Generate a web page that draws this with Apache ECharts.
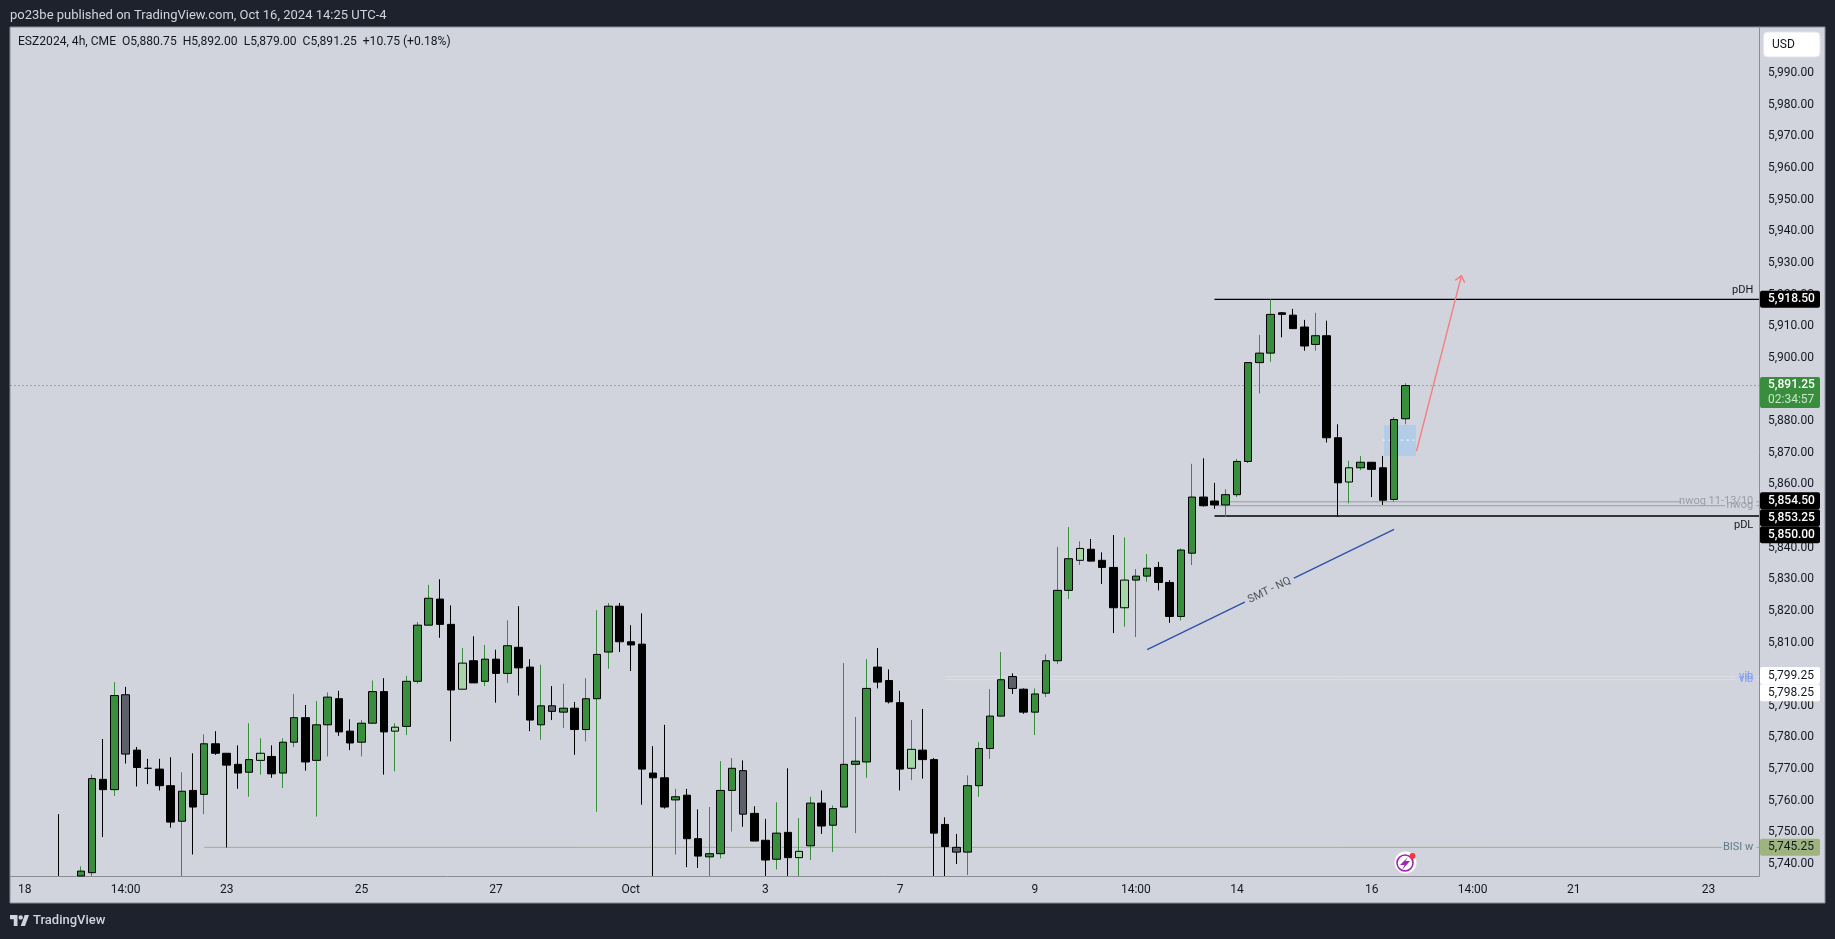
<!DOCTYPE html>
<html>
<head>
<meta charset="utf-8">
<style>html,body{margin:0;padding:0;background:#1e222d;overflow:hidden}#c{width:1835px;height:939px}</style>
<script src="https://cdn.jsdelivr.net/npm/echarts@6/dist/echarts.min.js"></script>
</head>
<body>
<div id="c"></div>
<script>
// candle class per bar: G bull, B bear, L pale bull, N grey bear
const kinds = ("BGGGBGNBBB"+"BGBGBBBGLB"+"GGBGGBBGGB"+"LGGGBBLBGB"+"GBBGNGBGGG"+"BBBBBGBBGG"+"GNBBGBLGBG"+"GGGBBBLBBB"+"NGGGGNBGGG"+"GLBBBLGGBB"+"GGBBGGGGGB"+"BBGBBLGBBG"+"G").split("");
const opens  = [5734,5728,5732,5737.25,5766.75,5763.5,5793.5,5776,5770.25,5770,5764.75,5753.5,5763.25,5762,5778,5775,5771.5,5769,5772.75,5774,5768.75,5778.5,5786.25,5772.75,5784,5792.25,5782,5778.5,5784.5,5794.5,5782,5783.5,5797.75,5815.5,5823.75,5815.75,5795.25,5804.25,5797.75,5804.75,5800.25,5808.5,5802.25,5784,5790,5788,5789.25,5782.5,5792.25,5807,5821.5,5810.25,5809.5,5768.75,5767.25,5760.25,5761.75,5748,5742.25,5743.25,5763.25,5769.5,5756,5747.5,5741.5,5750,5742,5745.75,5759.25,5752.25,5758,5771.5,5772.25,5802.25,5798,5791,5770.25,5776,5773,5752.5,5745.25,5743.75,5764.75,5776.5,5786.75,5799.25,5795.25,5788,5794,5804.25,5826.5,5836,5839.5,5836,5833.75,5821,5829.75,5831,5833.75,5829,5818.25,5838.25,5856,5854.75,5853.5,5856.75,5867.25,5898.5,5901.5,5914.25,5913.5,5909.75,5904.25,5907,5874.75,5860.75,5865.25,5867,5865.25,5855.25,5880.75];
const highs  = [5755.75,5735,5739.25,5768.25,5779.5,5797.5,5796,5777,5773.25,5773.25,5773.75,5769,5775,5781,5782,5775,5777.5,5784.5,5779.75,5777.5,5779.75,5793.75,5790.25,5791.5,5794.25,5794.75,5785.75,5785.5,5798,5798.75,5784.5,5799.5,5816.5,5828.25,5830,5821.75,5808.25,5812,5809.25,5807.75,5817,5821.5,5804.75,5803,5796.25,5797,5791.25,5798.75,5820.25,5822.5,5822.5,5815.5,5819.25,5777.25,5784,5763.75,5763.75,5757.25,5758,5772.5,5773.5,5772.75,5758.25,5754.25,5759.5,5770.25,5754.5,5761.25,5763.25,5758.5,5803.5,5786.5,5804.75,5808.25,5801.5,5794.75,5785.5,5789,5773.5,5754.75,5749.5,5768,5778.5,5795.25,5807,5800.25,5795.5,5795.5,5806.25,5840.25,5846.5,5842,5842.75,5838.5,5844,5843.25,5833.25,5838,5835.5,5829.75,5839.75,5866.5,5868.25,5860.5,5858.5,5868,5898.5,5907.25,5918.5,5914.5,5915.5,5912,5914.25,5911.75,5879,5867.5,5869,5867,5869,5881.25,5892];
const lows   = [5725,5726,5730,5735,5748.5,5761.5,5771.75,5764.5,5765.25,5763.25,5751.5,5733,5743,5755.75,5774.5,5745.25,5763.75,5761.25,5768.25,5767.25,5764,5777,5769.5,5755,5774,5780.5,5776,5774,5784.5,5768.25,5769.25,5780.75,5797,5815.5,5811.5,5778.75,5795.25,5797.25,5796.25,5791,5797.25,5793.25,5782,5779.25,5785.5,5783,5774.5,5778.75,5756.5,5801.75,5807,5801,5758.75,5730,5757.5,5743,5739,5738.75,5735.5,5741.75,5750.25,5751.75,5747.25,5733,5738.25,5733,5733,5741.25,5749.5,5743.75,5758,5749.75,5767.25,5795.5,5790.75,5763.25,5766.5,5767,5733,5733,5740,5736.5,5761.25,5773.25,5786.75,5793.75,5787.5,5780.75,5792.75,5803.25,5823.75,5834.5,5835.75,5828.5,5813,5815,5811.75,5829.25,5826.5,5816.25,5817,5834.5,5853,5852.25,5849.75,5856,5866.75,5888.75,5898.75,5906.5,5909.25,5902.25,5902.25,5873.25,5849.75,5854,5864.5,5856,5853.5,5854.5,5879];
const closes = [5730,5732,5737.75,5767,5763.5,5793.25,5774.75,5770.5,5770.25,5764.75,5753.25,5763,5758,5778,5775,5771.25,5768.75,5773,5775,5768.5,5778.5,5786.25,5772.25,5784,5792.75,5781.75,5778.25,5784.5,5794.5,5781.75,5783.25,5797.75,5815.5,5824,5815.75,5795,5803.5,5797.25,5804.75,5800.25,5809,5802,5785.5,5790,5788.25,5789.25,5782.5,5792.25,5806.25,5821.5,5810.25,5809.25,5770,5767.25,5758,5761.25,5748,5742.5,5743.25,5763.25,5770.25,5755.75,5747.25,5741.25,5749.75,5742,5744,5759.25,5752,5757.5,5771.5,5772.5,5795.5,5797.5,5791.25,5770,5776.25,5773,5749.75,5745.5,5743.75,5764.75,5776.5,5786.75,5798.25,5795.5,5788,5793.75,5804.25,5826.5,5836.5,5839.75,5835.75,5833.75,5821,5829.75,5831,5833.5,5829,5818.25,5839.25,5856,5853.25,5853.5,5856.75,5867.25,5898.5,5901.5,5913.75,5913.75,5909.25,5903.75,5907,5874.75,5860.5,5865.25,5867,5864.75,5855,5880.5,5891.25];

// ticks of the time axis are bar indices
const timeTickBars   = [-3,6,15,27,39,51,63,75,87,96,105,117,126,135,147];
const timeTickLabels = ["18","14:00","23","25","27","Oct","3","7","9","14:00","14","16","14:00","21","23"];
const priceTicks = [5740,5750,5760,5770,5780,5790,5800,5810,5820,5830,5840,5850,5860,5870,5880,5890,5900,5910,5920,5930,5940,5950,5960,5970,5980,5990];

// horizontal levels
const levelNames  = ["pDH","pDL","nwog 11-13/10","nwog","vib","vib","BISI w","last"];
const levelPrices = [5918.5,5850,5854.5,5853.25,5799.25,5798.25,5745.25,5891.25];
const levelStarts = [103,103,104,103,79,79,13,-4.26];
const levelEnds   = [151.51,151.51,144.6,148.5,149.4,149.4,148.2,151.51];

// drawn annotations
const smtLine   = [[97,5807.75],[119,5845.75]];
const arrowLine = [[121,5870.5],[125,5926]];
const arrowHead = [[124.44,5924.5],[125,5926],[125.3,5923.75]];
const zoneBox   = [[118.1,5878.75],[120.95,5869]];
const zoneMid   = [[118,5874],[120.8,5874]];
const smtLabel  = [107.9,5826.5];

// price tags on the right axis
const tagPrices = [5745.25,5798.25,5799.25,5850,5853.25,5854.5,5891.25,5918.5];
const tagTexts  = ["5,745.25","5,798.25","5,799.25","5,850.00","5,853.25","5,854.50","5,891.25\n02:34:57","5,918.50"];

const FONT = 'Roboto, "Noto Sans", sans-serif';
const PANE = '#d1d4dc', DARK = '#1e222d', INK = '#131722', EDGE = '#8a8d96';
const X0 = -4.26, X1 = 151.51, Y0 = 5736.2, Y1 = 6004.6;

const wickColor = {G:'#388e3c', L:'#388e3c', B:'#000000', N:'#000000'};
const bodyColor = {G:'#388e3c', L:'#a5d6a7', B:'#000000', N:'#5d606b'};
const levelStyle = {
  pDH:{color:'#000',width:1.4}, pDL:{color:'#000',width:1.4},
  'nwog 11-13/10':{color:'#9a9da6',width:1}, nwog:{color:'#9a9da6',width:1},
  vib:{color:'#dde0e7',width:1}, 'BISI w':{color:'#9db47e',width:1},
  last:{color:'#388e3c',width:1,type:[1,3]}
};
const labelStyle = {
  pDH:{color:'#131722',dy:-9}, pDL:{color:'#131722',dy:9},
  'nwog 11-13/10':{color:'#9a9da6',dy:-1}, nwog:{color:'#9a9da6',dy:0},
  vib:{color:'#7d9cf0',dy:0}, 'BISI w':{color:'#5f7a86',dy:0}
};
const tagStyle = [
  {bg:'#9db47e',fg:'#131722',dy:0},{bg:'#ffffff',fg:'#131722',dy:13},{bg:'#ffffff',fg:'#131722',dy:-1},
  {bg:'#000000',fg:'#ffffff',dy:18.7},{bg:'#000000',fg:'#ffffff',dy:12},{bg:'#000000',fg:'#ffffff',dy:-1},
  {bg:'#388e3c',fg:'#ffffff',dy:7,h:31},{bg:'#000000',fg:'#ffffff',dy:0}
];

// the pane cuts bars at its lower edge
const atPane = v => Math.max(v, Y0);
const wickData = kinds.map((k,i)=>{
  if (highs[i] < Y0) return null;
  const c = wickColor[k];
  return {value:[i,atPane(opens[i]),atPane(closes[i]),atPane(lows[i]),highs[i]],
    itemStyle:{color:c,color0:c,borderColor:c,borderColor0:c,borderColorDoji:c}};
}).filter(Boolean);
const bodyData = kinds.map((k,i)=>{
  const c = bodyColor[k], t = Math.max(opens[i],closes[i]), b = Math.min(opens[i],closes[i]);
  if (t < Y0) return null;
  return {value:[i,atPane(opens[i]),atPane(closes[i]),atPane(b),t],
    itemStyle:{color:c,color0:c,borderColor:'#000',borderColor0:'#000',borderColorDoji:'#000'}};
}).filter(Boolean);

function polyline(name,data,color,width,type,z){
  return {name,type:'line',data,showSymbol:false,symbol:'none',silent:true,animation:false,z,
    lineStyle:{color,width,type:type||'solid'},connectNulls:false};
}
const levelSeries = levelNames.map((n,i)=>{
  const st = levelStyle[n], p = levelPrices[i];
  const d = [[levelStarts[i],p],[levelEnds[i],p]];
  if (levelEnds[i] < X1) d.push([levelEnds[i],'-'],[151.28,p],[X1,p]);
  return polyline(n,d,st.color,st.width,st.type,n==='pDH'||n==='pDL'?5:2);
});
const levelLabels = levelNames.map((n,i)=>{
  if (n==='last') return null;
  const st = labelStyle[n];
  return {value:[151.0,levelPrices[i]],
    label:{show:true,position:'left',distance:0,formatter:n,offset:[0,st.dy],color:st.color,fontFamily:FONT,fontSize:11}};
}).filter(Boolean);

const tagData = tagPrices.map((p,i)=>{
  const s = tagStyle[i], two = !!s.h;
  return {value:[X1,p],label:{show:true,position:'right',distance:1,offset:[0,s.dy],
    formatter: two ? '{a|5,891.25}\n{b|02:34:57}' : tagTexts[i],
    rich: two ? {a:{color:'#fff',fontFamily:FONT,fontSize:12,lineHeight:15,fontWeight:500},b:{color:'#c8e6c9',fontFamily:FONT,fontSize:12,lineHeight:15}} : undefined,
    color:s.fg,backgroundColor:s.bg,borderRadius:2,width:52,height:s.h||17,lineHeight:s.h?15:17,padding:[0,0,0,8],
    align:'left',verticalAlign:'middle',fontFamily:FONT,fontSize:12,fontWeight:s.bg==='#000000'?500:400}};
});

const option = {
  animation:false,
  backgroundColor:DARK,
  textStyle:{fontFamily:FONT},
  grid:{left:10.5,top:27,width:1748.5,height:849,show:false,containLabel:false},
  xAxis:{type:'value',min:X0,max:X1,splitLine:{show:false},
    axisLine:{show:true,onZero:false,lineStyle:{color:EDGE,width:1}},axisTick:{show:false},
    axisLabel:{customValues:timeTickBars,margin:8,color:INK,fontFamily:FONT,fontSize:12,hideOverlap:false,showMinLabel:true,showMaxLabel:true,
      formatter:v=>timeTickLabels[timeTickBars.indexOf(v)]}},
  yAxis:{type:'value',position:'right',min:Y0,max:Y1,splitLine:{show:false},
    axisLine:{show:true,onZero:false,lineStyle:{color:EDGE,width:1}},axisTick:{show:false},
    axisLabel:{customValues:priceTicks,margin:9,color:INK,fontFamily:FONT,fontSize:12,align:'left',hideOverlap:false,
      formatter:v=>v.toLocaleString('en-US',{minimumFractionDigits:2,maximumFractionDigits:2})}},
  series:[
    ...levelSeries,
    {name:'zone',type:'line',data:[],z:1,silent:true,
      markArea:{silent:true,z:1,itemStyle:{color:'#b3cde9'},
        data:[[{xAxis:zoneBox[0][0],yAxis:zoneBox[0][1]},{xAxis:zoneBox[1][0],yAxis:zoneBox[1][1]}]]}},
    polyline('zoneMid',zoneMid,'#ffffff',1,[2,4],4),
    {name:'wicks',type:'candlestick',barWidth:1,data:wickData,z:6,silent:true,animation:false},
    {name:'bodies',type:'candlestick',barWidth:8,data:bodyData,z:7,silent:true,animation:false,itemStyle:{borderWidth:1}},
    polyline('smt',smtLine,'#2f52a8',1.4,null,8),
    polyline('arrow',arrowLine,'#f77c80',1.4,null,8),
    polyline('arrowHead',arrowHead,'#f77c80',1.4,null,8),
    {name:'smtLabel',type:'scatter',symbolSize:0,silent:true,z:9,itemStyle:{opacity:1},data:[{value:smtLabel,
      label:{show:true,position:'inside',formatter:'SMT - NQ',rotate:26,color:'#50535e',fontFamily:FONT,fontSize:11,backgroundColor:PANE,padding:[1,4]}}]},
    {name:'levelLabels',type:'scatter',symbolSize:0,silent:true,z:9,clip:false,itemStyle:{opacity:1},data:levelLabels},
    {name:'tags',type:'scatter',symbolSize:0,silent:true,z:10,clip:false,itemStyle:{opacity:1},data:tagData}
  ],
  graphic:[
    {type:'rect',z:-10,silent:true,shape:{x:10,y:27,width:1815,height:876},style:{fill:PANE,stroke:EDGE,lineWidth:1}},
    {type:'text',z:20,x:10,y:15.5,style:{text:'po23be published on TradingView.com, Oct 16, 2024 14:25 UTC-4',fill:'#d1d4dc',font:'13px '+FONT,textVerticalAlign:'middle'}},
    {type:'text',z:20,x:18,y:42,style:{text:'ESZ2024, 4h, CME  O5,880.75  H5,892.00  L5,879.00  C5,891.25  +10.75 (+0.18%)',fill:INK,font:'12.1px '+FONT,textVerticalAlign:'middle'}},
    {type:'rect',z:20,shape:{x:1763.5,y:32,width:56.5,height:25,r:4},style:{fill:'#ffffff',stroke:'#e3e5ea'}},
    {type:'text',z:21,x:1772,y:44.5,style:{text:'USD',fill:INK,font:'12px '+FONT,textVerticalAlign:'middle'}},
    {type:'polygon',z:20,shape:{points:[[10,915],[17.5,915],[17.5,926],[13.75,926],[13.75,919.3],[10,919.3]]},style:{fill:'#d1d4dc'}},
    {type:'polygon',z:20,shape:{points:[[25,926],[20.7,926],[24.7,915],[29,915]]},style:{fill:'#d1d4dc'}},
    {type:'circle',z:21,shape:{cx:20.7,cy:917.4,r:2.2},style:{fill:'#d1d4dc'}},
    {type:'text',z:20,x:33,y:921,style:{text:'TradingView',fill:'#d1d4dc',font:'500 13px '+FONT,textVerticalAlign:'middle'}},
    {type:'circle',z:20,shape:{cx:1405.5,cy:862.5,r:11},style:{fill:'#ffffff'}},
    {type:'circle',z:21,shape:{cx:1405,cy:863,r:8},style:{fill:'none',stroke:'#9c27b0',lineWidth:1.6}},
    {type:'polygon',z:22,shape:{points:[[1408,857],[1400,865],[1404.5,865],[1402,870],[1410,861],[1405.5,861]]},style:{fill:'#9c27b0'}},
    {type:'circle',z:23,shape:{cx:1412.5,cy:856,r:3},style:{fill:'#f23645'}}
  ]
};
const chart = echarts.init(document.getElementById('c'),null,{renderer:'canvas',width:1835,height:939});
chart.setOption(option);
</script>
</body>
</html>
